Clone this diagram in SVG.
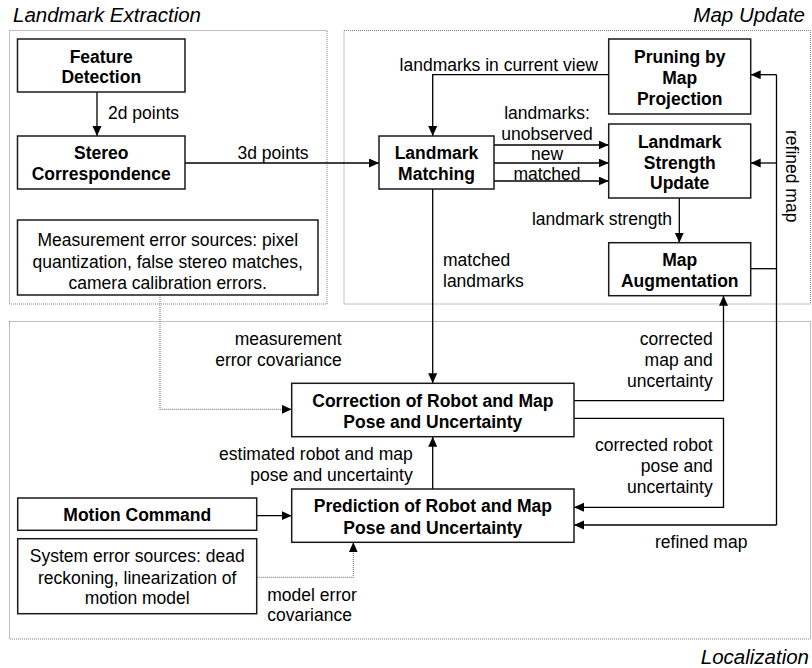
<svg xmlns="http://www.w3.org/2000/svg" width="812" height="668" viewBox="0 0 812 668">
<defs>
<marker id="ah" markerWidth="11" markerHeight="10" refX="10" refY="4.5" orient="auto" markerUnits="userSpaceOnUse">
<path d="M0,0 L10,4.5 L0,9 z" fill="#000"/>
</marker>
<style>
text{font-family:"Liberation Sans",Arial,sans-serif;font-size:17.5px;fill:#000}
.b{font-weight:bold}
.t{font-style:italic;font-size:20.5px}
.m{text-anchor:middle}
.r{text-anchor:end}
.box{fill:#fff;stroke:#1a1a1a;stroke-width:1.5}
.grp{fill:none;stroke:#808080;stroke-width:1;stroke-dasharray:1 1}
.c{fill:none;stroke:#000;stroke-width:1.3}
.d{fill:none;stroke:#808080;stroke-width:1.2;stroke-dasharray:1 1}
</style>
</defs>

<g id="regions">
<rect class="grp" x="9.5" y="30.5" width="317.5" height="273.5"/>
<rect class="grp" x="344" y="30.5" width="466.5" height="273.5"/>
<rect class="grp" x="9.5" y="321.5" width="801" height="317.5"/>
<text class="t" x="13" y="22">Landmark Extraction</text>
<text class="t r" x="805" y="22">Map Update</text>
<text class="t r" x="809" y="663.5">Localization</text>
</g>

<g id="connectors">
<path class="c" d="M97,92 V136" marker-end="url(#ah)"/>
<path class="c" d="M185,163 H379" marker-end="url(#ah)"/>
<path class="c" d="M608.7,74.7 H432.7 V136" marker-end="url(#ah)"/>
<path class="c" d="M494,145 H608.7" marker-end="url(#ah)"/>
<path class="c" d="M494,163 H608.7" marker-end="url(#ah)"/>
<path class="c" d="M494,181 H608.7" marker-end="url(#ah)"/>
<path class="c" d="M679.3,198 V242.7" marker-end="url(#ah)"/>
<path class="c" d="M750.7,268.7 H776.5"/>
<path class="c" d="M776.5,74.7 V525"/>
<path class="c" d="M776.5,74.7 H750.7" marker-end="url(#ah)"/>
<path class="c" d="M776.5,163 H750.7" marker-end="url(#ah)"/>
<path class="c" d="M776.5,525 H574" marker-end="url(#ah)"/>
<path class="c" d="M432.7,189 V383.3" marker-end="url(#ah)"/>
<path class="c" d="M574,400.7 H723.5 V295.7" marker-end="url(#ah)"/>
<path class="c" d="M574,418.3 H723.5 V507.3 H574" marker-end="url(#ah)"/>
<path class="c" d="M432.7,489 V436.7" marker-end="url(#ah)"/>
<path class="c" d="M256.7,515.7 H291.7" marker-end="url(#ah)"/>
<path class="d" d="M160,295 V409.3 H291.7" marker-end="url(#ah)"/>
<path class="d" d="M256.7,577.3 H353.3 V542.3" marker-end="url(#ah)"/>

<text x="108" y="118.5">2d points</text>
<text class="m" x="273" y="158.5">3d points</text>
<text class="r" x="598" y="71">landmarks in current view</text>
<text class="m" x="547" y="118.5">landmarks:</text>
<text class="m" x="547" y="140">unobserved</text>
<text class="m" x="547" y="159.5">new</text>
<text class="m" x="547" y="180">matched</text>
<text class="r" x="672" y="225">landmark strength</text>
<text transform="translate(786,130) rotate(90)">refined map</text>
<text x="443" y="265.5">matched</text>
<text x="443" y="286.5">landmarks</text>
<text class="r" x="341.7" y="345">measurement</text>
<text class="r" x="341.7" y="366">error covariance</text>
<text class="r" x="712.7" y="345">corrected</text>
<text class="r" x="712.7" y="366">map and</text>
<text class="r" x="712.7" y="387">uncertainty</text>
<text class="r" x="412.7" y="460">estimated robot and map</text>
<text class="r" x="412.7" y="480.5">pose and uncertainty</text>
<text class="r" x="712.7" y="450.5">corrected robot</text>
<text class="r" x="712.7" y="471.5">pose and</text>
<text class="r" x="712.7" y="493">uncertainty</text>
<text x="655" y="548">refined map</text>
<text x="267.3" y="601">model error</text>
<text x="267.3" y="621">covariance</text>
</g>

<g id="feature-detection">
<rect class="box" x="17.5" y="39" width="167.5" height="53"/>
<text class="b m" x="101.25" y="63">Feature</text>
<text class="b m" x="101.25" y="83">Detection</text>
</g>

<g id="stereo-correspondence">
<rect class="box" x="17.5" y="136" width="167.5" height="53"/>
<text class="b m" x="101.25" y="159">Stereo</text>
<text class="b m" x="101.25" y="179.5">Correspondence</text>
</g>

<g id="measurement-error">
<rect class="box" x="17.5" y="220" width="300.5" height="75"/>
<text class="m" x="167.75" y="246">Measurement error sources: pixel</text>
<text class="m" x="167.75" y="267.5">quantization, false stereo matches,</text>
<text class="m" x="167.75" y="288.5">camera calibration errors.</text>
</g>

<g id="landmark-matching">
<rect class="box" x="379" y="136" width="115" height="53"/>
<text class="b m" x="436.5" y="159.3">Landmark</text>
<text class="b m" x="436.5" y="180.3">Matching</text>
</g>

<g id="pruning">
<rect class="box" x="608.7" y="39" width="142" height="75"/>
<text class="b m" x="679.7" y="63">Pruning by</text>
<text class="b m" x="679.7" y="84">Map</text>
<text class="b m" x="679.7" y="105">Projection</text>
</g>

<g id="landmark-strength-update">
<rect class="box" x="608.7" y="124" width="142" height="74"/>
<text class="b m" x="679.7" y="147.5">Landmark</text>
<text class="b m" x="679.7" y="168.7">Strength</text>
<text class="b m" x="679.7" y="189.3">Update</text>
</g>

<g id="map-augmentation">
<rect class="box" x="608.7" y="242.7" width="142" height="53"/>
<text class="b m" x="679.7" y="265.7">Map</text>
<text class="b m" x="679.7" y="286.7">Augmentation</text>
</g>

<g id="correction">
<rect class="box" x="291.7" y="383.3" width="282.3" height="53.4"/>
<text class="b m" x="432.85" y="407">Correction of Robot and Map</text>
<text class="b m" x="432.85" y="428">Pose and Uncertainty</text>
</g>

<g id="prediction">
<rect class="box" x="291.7" y="489" width="282.3" height="53.3"/>
<text class="b m" x="432.85" y="512">Prediction of Robot and Map</text>
<text class="b m" x="432.85" y="533.5">Pose and Uncertainty</text>
</g>

<g id="motion-command">
<rect class="box" x="17.7" y="498" width="239" height="32.3"/>
<text class="b m" x="137.2" y="521">Motion Command</text>
</g>

<g id="system-error">
<rect class="box" x="17.7" y="538.7" width="239" height="75"/>
<text class="m" x="137.2" y="562">System error sources: dead</text>
<text class="m" x="137.2" y="583.5">reckoning, linearization of</text>
<text class="m" x="137.2" y="604">motion model</text>
</g>
</svg>
